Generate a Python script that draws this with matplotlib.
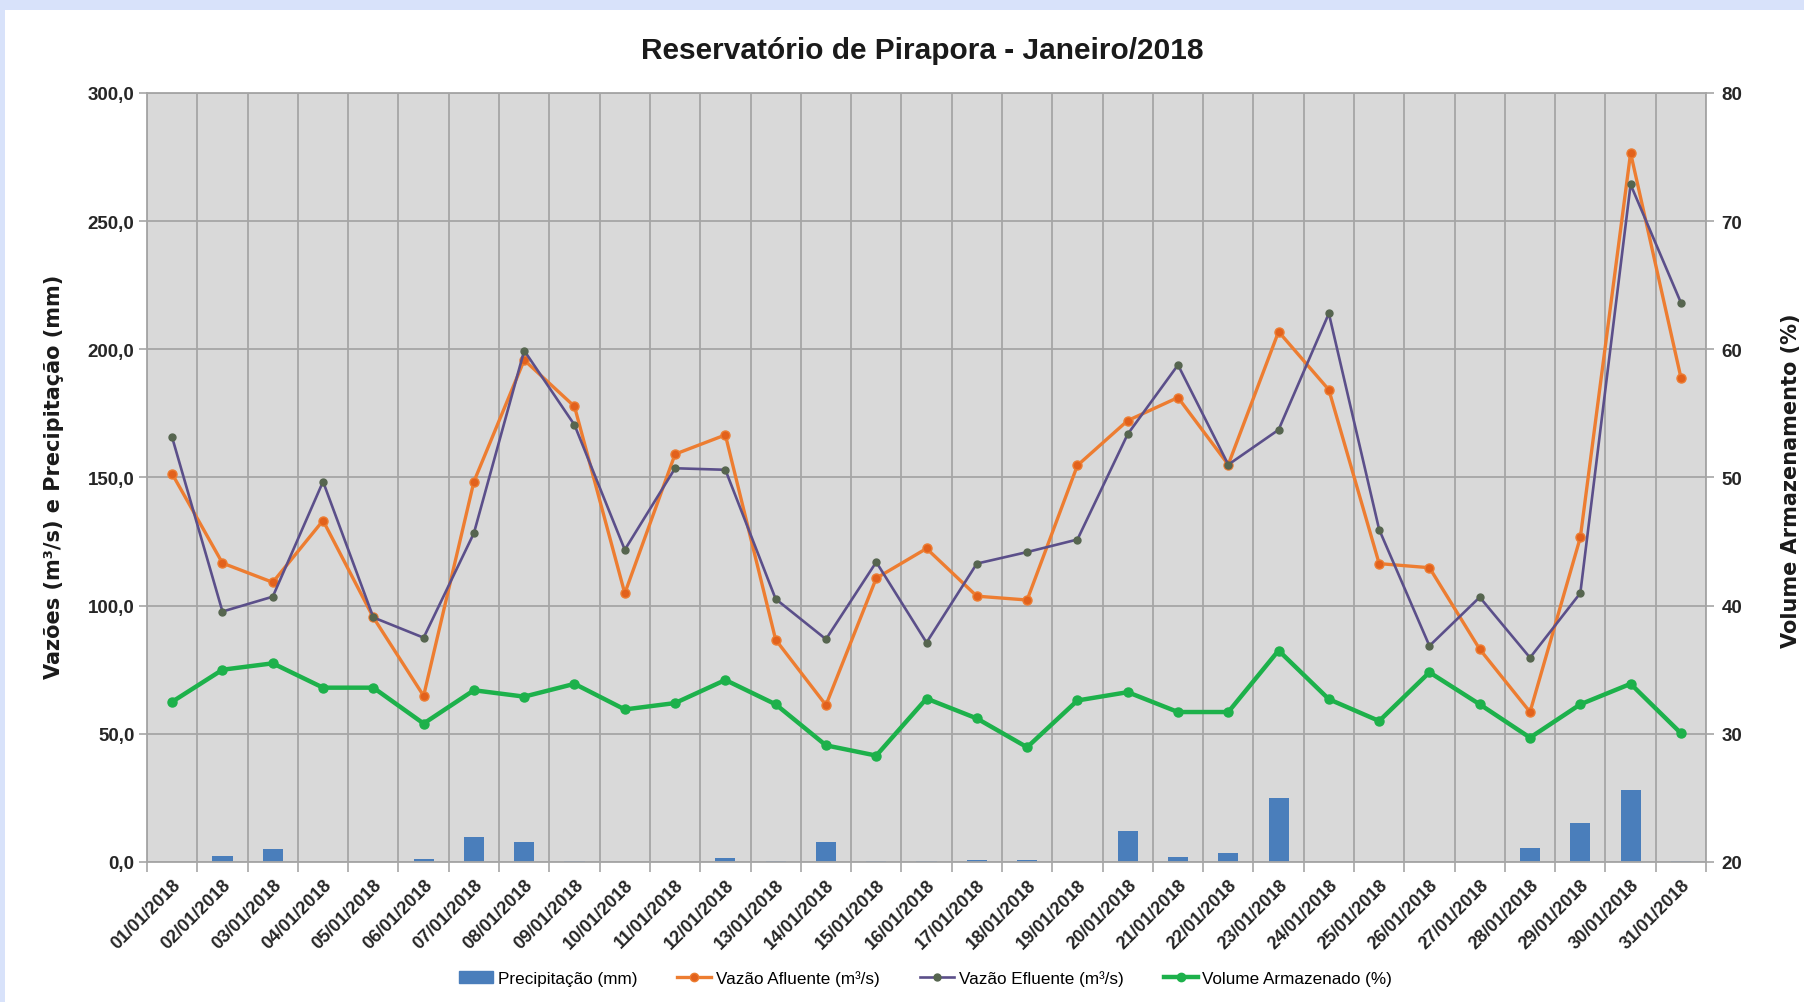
import numpy as np
import matplotlib
matplotlib.use('Agg')
import matplotlib.pyplot as plt
from matplotlib.patches import Rectangle
from matplotlib.lines import Line2D
from matplotlib.ticker import FuncFormatter

# Data
datas = ['%02d/01/2018' % d for d in range(1, 32)]
precipitacao = [0, 2.2, 5.0, 0, 0, 1.2, 9.8, 7.6, 0.3, 0, 0, 1.6, 0.3, 7.6, 0.3, 0.3,
                0.9, 0.9, 0, 12.2, 2.0, 3.5, 25.1, 0, 0, 0, 0, 5.6, 15.3, 27.9, 0.3]
afluente = [151.4, 116.6, 109.1, 133.2, 95.4, 64.8, 148.4, 195.8, 177.7, 104.8, 159.1,
            166.6, 86.7, 61.2, 110.7, 122.3, 103.7, 102.2, 154.7, 172.2, 181.2, 155.0,
            206.9, 184.2, 116.4, 114.8, 83.0, 58.5, 126.6, 276.6, 189.0]
efluente = [165.6, 97.7, 103.5, 148.4, 95.4, 87.5, 128.3, 199.5, 170.5, 121.8, 153.6,
            153.0, 102.6, 86.9, 117.0, 85.6, 116.4, 120.9, 125.8, 166.9, 193.9, 155.0,
            168.6, 214.0, 129.7, 84.3, 103.3, 79.7, 104.9, 264.3, 218.2]
volume = [32.5, 35.0, 35.5, 33.6, 33.6, 30.8, 33.4, 32.9, 33.9, 31.9, 32.4, 34.2, 32.3,
          29.1, 28.3, 32.75, 31.2, 28.95, 32.6, 33.25, 31.7, 31.7, 36.5, 32.7, 31.0,
          34.8, 32.3, 29.7, 32.3, 33.9, 30.05]

narrow = ['Liberation Sans', 'DejaVu Sans']
c_bar = '#4a7ebb'
c_af = '#ed7d31'
c_ef = '#5b4f8a'
c_vol = '#1db14b'
c_grid = '#a5a5a5'

fig = plt.figure(figsize=(18.04, 10.03), dpi=100)
fig.patch.set_facecolor('#d8e2fa')
fig.patches.append(Rectangle((5 / 1804, 0), 1, 1 - 11 / 1003, transform=fig.transFigure,
                             facecolor='white', edgecolor='none', zorder=-10))

ax = fig.add_axes([0.0815, 0.1396, 0.8642, 0.7667])
ax.set_facecolor('#d9d9d9')
x = np.arange(len(datas))

ax.bar(x, precipitacao, width=0.4, color=c_bar, zorder=2)
ax.plot(x, afluente, '-o', color=c_af, lw=2.4, ms=6.5, mfc='#e2611c', mec=c_af, zorder=3)
ax.plot(x, efluente, '-o', color=c_ef, lw=1.9, ms=5, mfc='#56654f', mec='#56654f', zorder=4)

ax.set_xlim(-0.5, len(datas) - 0.5)
ax.set_ylim(0, 300)
ax.set_yticks(np.arange(0, 301, 50))
ax.yaxis.set_major_formatter(FuncFormatter(lambda v, p: ('%.1f' % v).replace('.', ',')))

ax.set_xticks(x)
ax.set_xticklabels(datas, rotation=45, ha='right', rotation_mode='anchor',
                   family=narrow, fontsize=13, fontweight='bold', color='#262626')
ax.set_xticks(np.arange(-0.5, len(datas), 1), minor=True)
ax.tick_params(axis='x', which='major', length=0, pad=10)
ax.tick_params(axis='x', which='minor', length=7, color=c_grid, width=1.2)
ax.tick_params(axis='y', length=6, color=c_grid, width=1.2, pad=3)
for lab in ax.get_yticklabels():
    lab.set_family(narrow)
    lab.set_fontsize(13.5)
    lab.set_fontweight('bold')
    lab.set_color('#262626')

ax.grid(True, which='minor', axis='x', color=c_grid, lw=1.3, zorder=1)
ax.grid(True, which='major', axis='y', color=c_grid, lw=1.3, zorder=1)
ax.set_axisbelow(True)
for s in ax.spines.values():
    s.set_color(c_grid)
    s.set_linewidth(1.3)

ax2 = ax.twinx()
ax2.plot(x, volume, '-o', color=c_vol, lw=3.2, ms=6.5, zorder=5)
ax2.set_ylim(20, 80)
ax2.set_yticks(np.arange(20, 81, 10))
ax2.tick_params(axis='y', length=6, color=c_grid, width=1.2, pad=5)
for lab in ax2.get_yticklabels():
    lab.set_family(narrow)
    lab.set_fontsize(13.5)
    lab.set_fontweight('bold')
    lab.set_color('#262626')
for s in ax2.spines.values():
    s.set_visible(False)

fig.text(54 / 1804, 1 - 477 / 1003, 'Vazões (m³/s) e Precipitação (mm)', rotation=90,
         ha='center', va='center', fontsize=15, fontweight='bold', color='#1a1a1a')
fig.text(1801 / 1804, 1 - 481 / 1003, 'Volume Armazenamento (%)', rotation=90,
         ha='right', va='center', fontsize=15, fontweight='bold', color='#1a1a1a')

fig.text(0.511, 0.949, 'Reservatório de Pirapora - Janeiro/2018', ha='center', va='center',
         family=narrow, fontsize=21.5, fontweight='bold', color='#1a1a1a')

handles = [Rectangle((0, 0), 1, 1, color=c_bar),
           Line2D([], [], color=c_af, lw=2.4, marker='o', ms=6, mfc='#e2611c', mec=c_af),
           Line2D([], [], color=c_ef, lw=1.9, marker='o', ms=5, mfc='#56654f', mec='#56654f'),
           Line2D([], [], color=c_vol, lw=3.2, marker='o', ms=6)]
labels = ['Precipitação (mm)', 'Vazão Afluente (m³/s)', 'Vazão Efluente (m³/s)',
          'Volume Armazenado (%)']
fig.legend(handles, labels, loc='center', bbox_to_anchor=(0.513, 0.024), ncol=4,
           frameon=False, prop={'family': narrow, 'size': 12.3}, handlelength=2.0,
           handleheight=0.7, columnspacing=2.35, handletextpad=0.27)

fig.savefig('out.png', dpi=100)
